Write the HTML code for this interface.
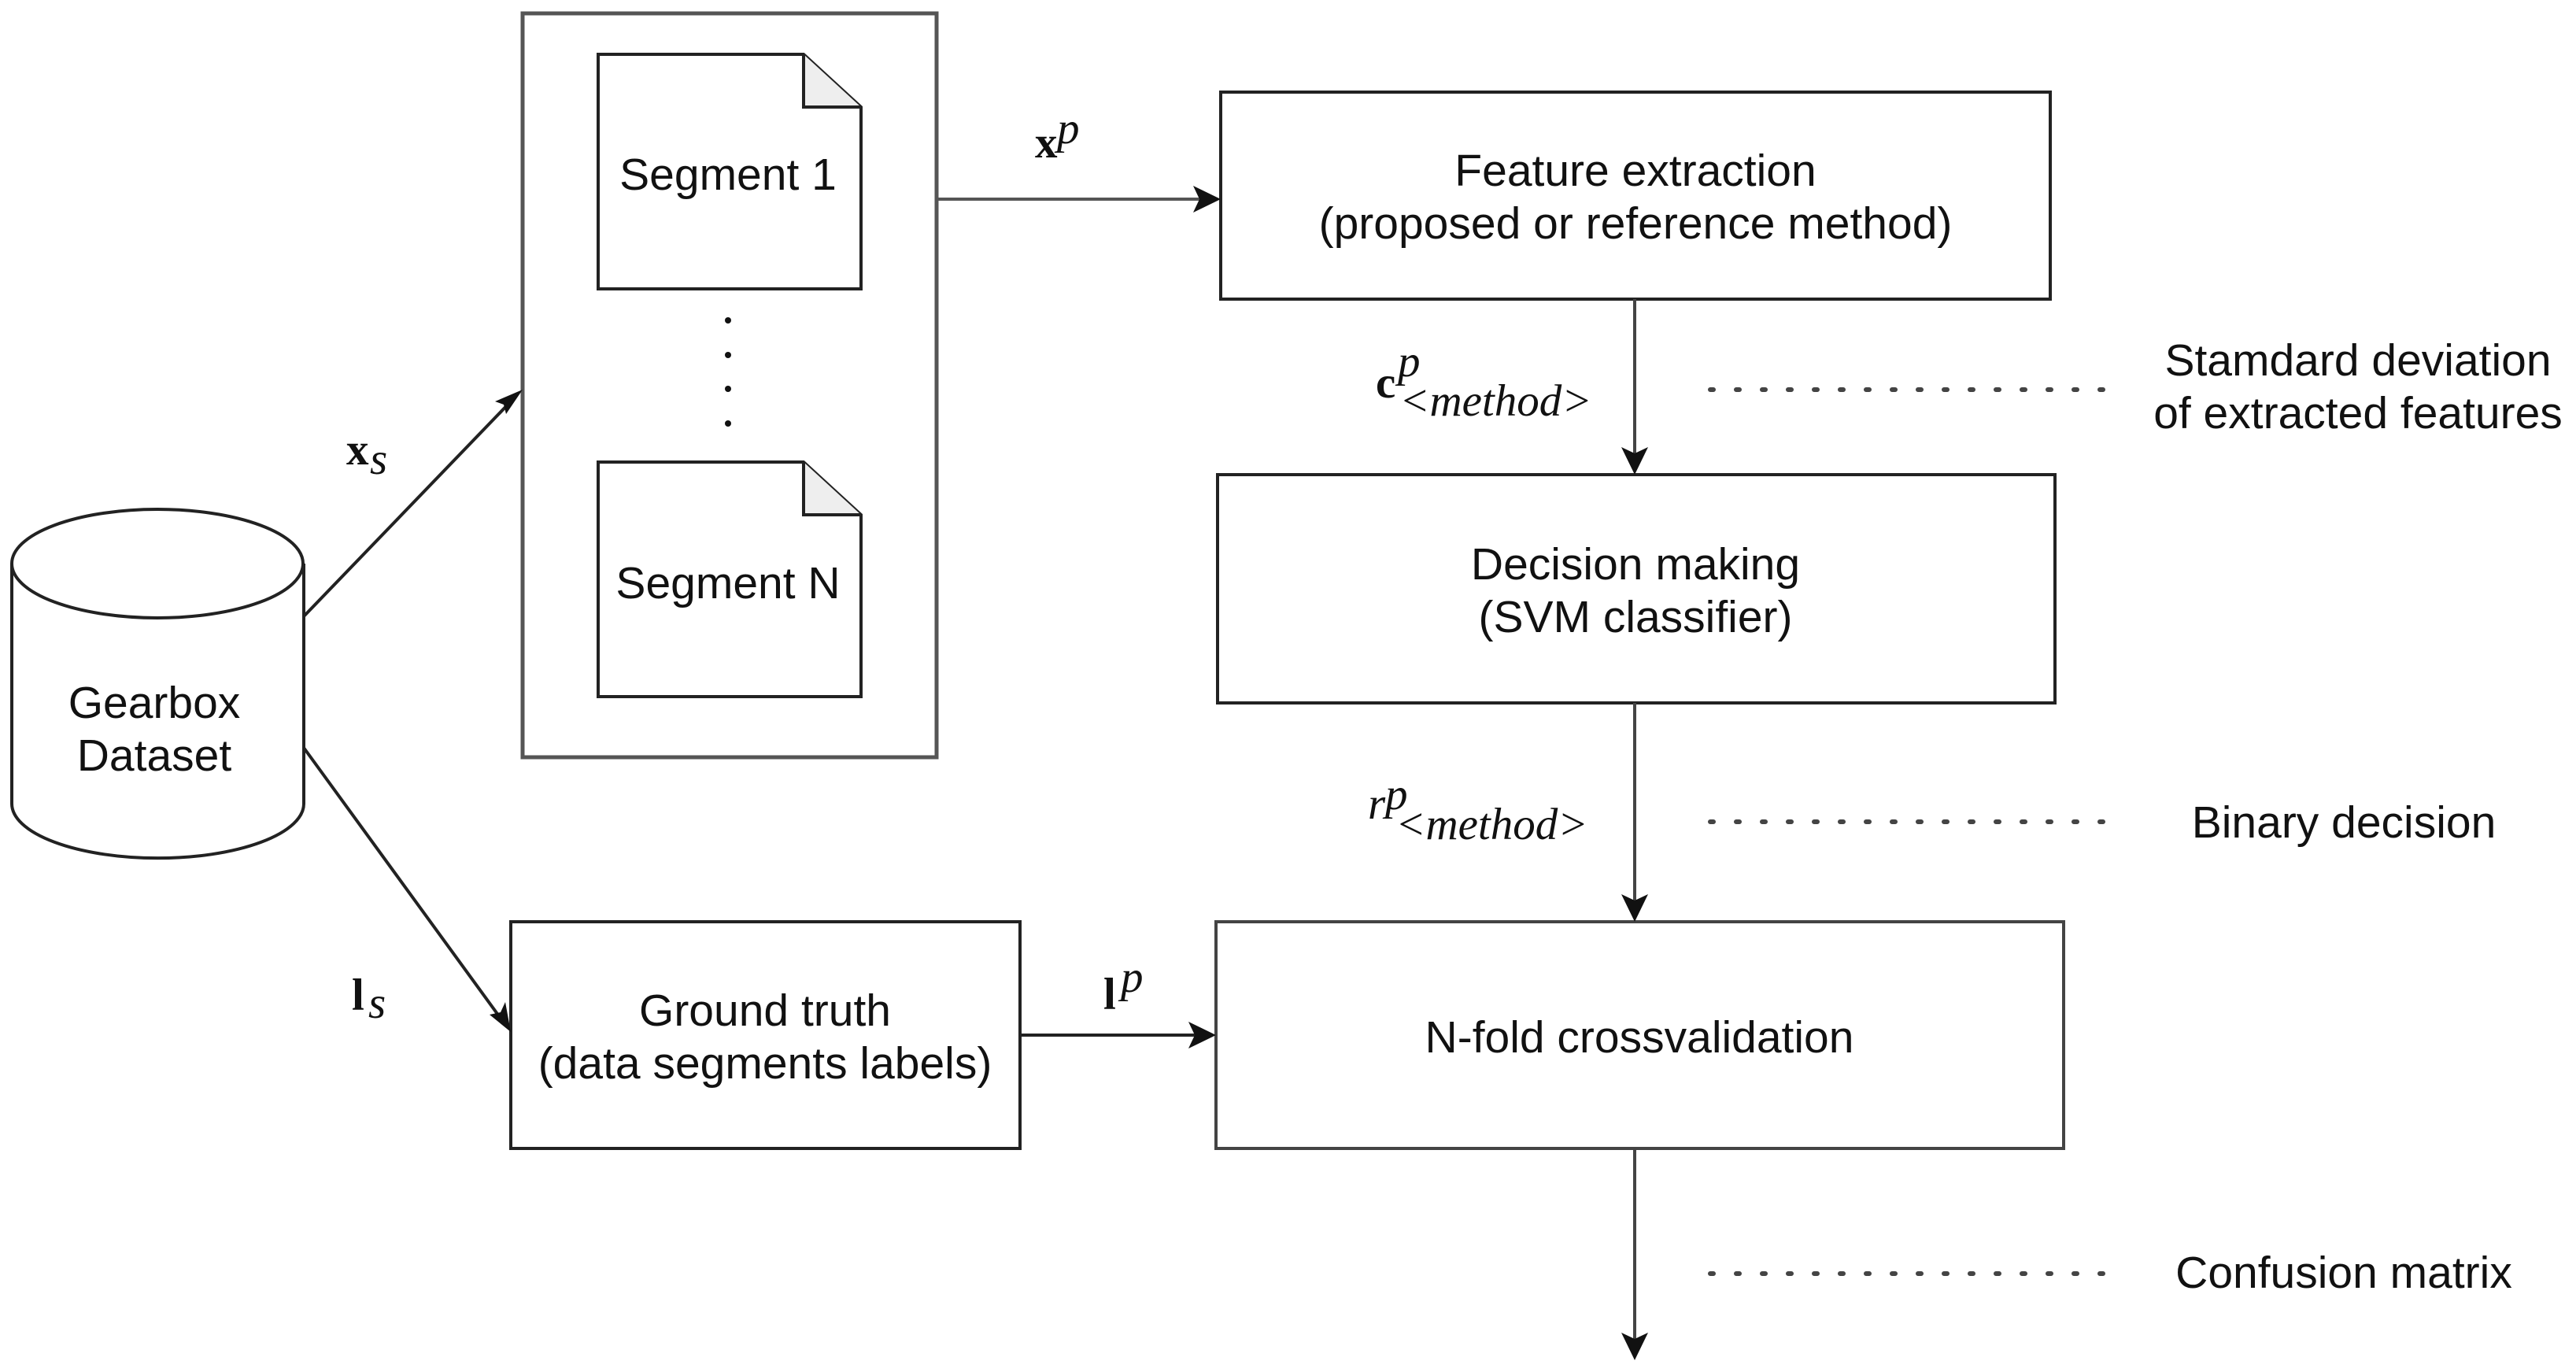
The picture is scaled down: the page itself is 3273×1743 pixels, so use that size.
<!DOCTYPE html>
<html><head><meta charset="utf-8"><style>
html,body{margin:0;padding:0;background:#fff;}
svg{display:block;}
text{font-family:"Liberation Sans",sans-serif;font-size:57px;fill:#111;}
.m{font-family:"Liberation Serif",serif;}
</style></head><body>
<svg width="3273" height="1743" viewBox="0 0 3273 1743">
<g fill="none" stroke="#222" stroke-width="4">
<rect x="664" y="17" width="526" height="945" stroke="#555" stroke-width="5"/>
<path d="M760 69 H1021 L1094 136 V367 H760 Z"/>
<path d="M1021 69 V136 H1094" fill="#eee"/>
<path d="M760 587 H1021 L1094 654 V885 H760 Z"/>
<path d="M1021 587 V654 H1094" fill="#eee"/>
<path d="M15 716 V1021 A185 69 0 0 0 386 1021 V716" />
<ellipse cx="200" cy="716" rx="185" ry="69"/>
<rect x="1551" y="117" width="1054" height="263"/>
<rect x="1547" y="603" width="1064" height="290"/>
<rect x="1545" y="1171" width="1077" height="288" stroke="#444"/>
<rect x="649" y="1171" width="647" height="288"/>
<line x1="1190" y1="253" x2="1530" y2="253" stroke="#555"/>
<line x1="2077" y1="380" x2="2077" y2="582" stroke="#444"/>
<line x1="2077" y1="893" x2="2077" y2="1150" stroke="#444"/>
<line x1="2077" y1="1459" x2="2077" y2="1710" stroke="#444"/>
<line x1="386" y1="783" x2="650" y2="509"/>
<line x1="386" y1="950" x2="637" y2="1295"/>
<line x1="1296" y1="1315" x2="1525" y2="1315"/>
</g>
<g fill="#111">
<polygon points="1551,253 1516,236 1524,253 1516,270"/>
<polygon points="2077,603 2060,568 2077,576 2094,568"/>
<polygon points="2077,1171 2060,1136 2077,1144 2094,1136"/>
<polygon points="2077,1728 2060,1693 2077,1701 2094,1693"/>
<polygon points="664,495 629,510 640,514 643,526"/>
<polygon points="649,1311 642,1273 636,1286 622,1289"/>
<polygon points="1545,1315 1510,1298 1518,1315 1510,1332"/>
<circle cx="925" cy="407" r="4"/><circle cx="925" cy="451" r="4"/><circle cx="925" cy="494" r="4"/><circle cx="925" cy="538" r="4"/>
</g>
<g stroke="#444" stroke-width="6" stroke-dasharray="4 29" stroke-linecap="round">
<line x1="2173" y1="495" x2="2700" y2="495"/>
<line x1="2173" y1="1044" x2="2700" y2="1044"/>
<line x1="2173" y1="1618" x2="2700" y2="1618"/>
</g>
<g text-anchor="middle">
<text x="925" y="241">Segment 1</text>
<text x="925" y="760">Segment N</text>
<text x="196" y="912">Gearbox</text>
<text x="196" y="979">Dataset</text>
<text x="2078" y="236">Feature extraction</text>
<text x="2078" y="303">(proposed or reference method)</text>
<text x="2078" y="736">Decision making</text>
<text x="2078" y="803">(SVM classifier)</text>
<text x="2083" y="1337">N-fold crossvalidation</text>
<text x="972" y="1303">Ground truth</text>
<text x="972" y="1370">(data segments labels)</text>
<text x="2996" y="477">Stamdard deviation</text>
<text x="2996" y="544">of extracted features</text>
<text x="2978" y="1064">Binary decision</text>
<text x="2978" y="1636">Confusion matrix</text>
</g>
<g>
<text class="m" x="1315" y="200" font-weight="bold" font-size="52">x</text>
<text class="m" x="1343" y="182" font-style="italic" font-size="32">p</text>
<text class="m" x="440" y="590" font-weight="bold" font-size="52">x</text>
<text class="m" x="470" y="602" font-style="italic" font-size="32">s</text>
<text class="m" x="447" y="1283" font-weight="bold" font-size="56">l</text>
<text class="m" x="468" y="1293" font-style="italic" font-size="32">s</text>
<text class="m" x="1402" y="1282" font-weight="bold" font-size="56">l</text>
<text class="m" x="1424" y="1260" font-style="italic" font-size="32">p</text>
<text class="m" x="1748" y="505" font-weight="bold" font-size="56">c</text>
<text class="m" x="1776" y="478" font-style="italic" font-size="32">p</text>
<text class="m" x="1778" y="528" font-style="italic" font-size="34">&lt;method&gt;</text>
<text class="m" x="1738" y="1040" font-style="italic" font-size="50">r</text>
<text class="m" x="1760" y="1028" font-style="italic" font-size="32">p</text>
<text class="m" x="1773" y="1066" font-style="italic" font-size="34">&lt;method&gt;</text>
</g>
</svg>
</body></html>
